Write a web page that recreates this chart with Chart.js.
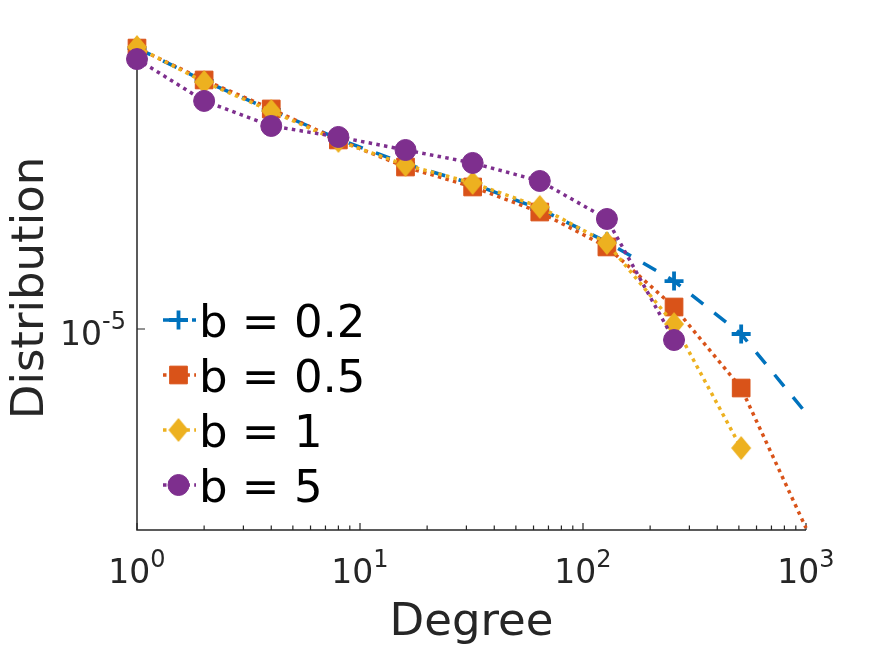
<!DOCTYPE html>
<html><head><meta charset="utf-8">
<script src="https://cdn.jsdelivr.net/npm/chart.js@4"></script>
<style>html,body{margin:0;padding:0;background:#fff}#wrap{width:891px;height:645px;position:relative}</style>
</head><body><div id="wrap"><canvas id="c"></canvas></div>
<script>
// ---- data ----
const degrees = [1, 2, 4, 8, 16, 32, 64, 128, 256, 512, 1000];
const seriesLabels = ['b = 0.2', 'b = 0.5', 'b = 1', 'b = 5'];
const b02 = [6.03e-5, 4.885e-5, 4.058e-5, 3.372e-5, 2.873e-5, 2.528e-5, 2.154e-5, 1.745e-5, 1.359e-5, 9.685e-6, 5.843e-6];
const b05 = [6.03e-5, 4.917e-5, 4.085e-5, 3.350e-5, 2.818e-5, 2.480e-5, 2.113e-5, 1.690e-5, 1.151e-5, 6.856e-6, 2.801e-6];
const b1  = [6.07e-5, 4.854e-5, 4.032e-5, 3.328e-5, 2.855e-5, 2.544e-5, 2.183e-5, 1.733e-5, 1.032e-5, 4.671e-6, null];
const b5  = [5.62e-5, 4.30e-5, 3.664e-5, 3.415e-5, 3.142e-5, 2.892e-5, 2.577e-5, 2.021e-5, 9.32e-6, null, null];
const xTicks = [1, 10, 100, 1000];
const yTicks = [1e-5];
const xRange = [1, 1000];
const yRange = [2.765e-6, 6.11e-5];
const xTitle = 'Degree';
const yTitle = 'Distribution';

// ---- styles ----
const styles = [
  {color: '#0072BD', dash: [15, 14], point: 'cross', r: 9.5, pbw: 3.8},
  {color: '#D95319', dash: [3.5, 4.3], point: 'rect', r: 12.5, pbw: 1},
  {color: '#EDB120', dash: [3.5, 4.3], point: 'diamond', r: 11, pbw: 1},
  {color: '#7E2F8E', dash: [3.5, 4.3], point: 'circle', r: 10.5, pbw: 1}
];
const seriesValues = [b02, b05, b1, b5];
const AX = '#262626';
const FONT = '"DejaVu Sans", sans-serif';

// MATLAB-like diamond (slightly taller than wide) as a point image
function makeDiamond(color, w, h) {
  const c = document.createElement('canvas');
  c.width = Math.ceil(w) + 2; c.height = Math.ceil(h) + 2;
  const g = c.getContext('2d');
  const cx = c.width / 2, cy = c.height / 2;
  g.fillStyle = color;
  g.beginPath();
  g.moveTo(cx, cy - h / 2); g.lineTo(cx + w / 2, cy);
  g.lineTo(cx, cy + h / 2); g.lineTo(cx - w / 2, cy);
  g.closePath(); g.fill();
  return c;
}
const diamondImg = makeDiamond('#EDB120', 20, 24);
const resolveStyle = (s) => s.point === 'diamond' ? diamondImg : s.point;

const isMarker = (d) => Math.abs(Math.log2(d) - Math.round(Math.log2(d))) < 1e-9;

const datasets = seriesValues.map((vals, i) => {
  const s = styles[i];
  return {
    label: seriesLabels[i],
    data: degrees.map((d, k) => ({x: d, y: vals[k]})),
    borderColor: s.color,
    backgroundColor: s.color,
    borderWidth: 3.5,
    borderDash: s.dash,
    borderCapStyle: 'butt',
    tension: 0,
    spanGaps: false,
    clip: false,
    order: 4 - i,
    pointStyle: resolveStyle(s),
    pointRadius: (ctx) => isMarker(degrees[ctx.dataIndex]) ? s.r : 0,
    pointBackgroundColor: s.color,
    pointBorderColor: s.color,
    pointBorderWidth: s.pbw
  };
});

function drawPow(ctx, base, exp, x, baseY, align) {
  ctx.font = '33px ' + FONT;
  const wb = ctx.measureText(base).width;
  ctx.font = '24px ' + FONT;
  const we = ctx.measureText(exp).width;
  const total = wb + we;
  let sx = align === 'center' ? x - total / 2 : x - total;
  ctx.textBaseline = 'alphabetic';
  ctx.textAlign = 'left';
  ctx.font = '33px ' + FONT;
  ctx.fillText(base, sx, baseY);
  ctx.font = '24px ' + FONT;
  ctx.fillText(exp, sx + wb, baseY - 16);
}

const axesPlugin = {
  id: 'matlabAxes',
  beforeDatasetsDraw(chart) {
    const {ctx, chartArea: a, scales: {x, y}} = chart;
    ctx.save();
    ctx.strokeStyle = AX;
    ctx.lineWidth = 1.5;
    ctx.setLineDash([]);
    ctx.beginPath();
    ctx.moveTo(a.left, a.top);
    ctx.lineTo(a.left, a.bottom);
    ctx.lineTo(a.right, a.bottom);
    ctx.stroke();
    ctx.lineWidth = 1.2;
    ctx.beginPath();
    for (let dec = 1; dec < xRange[1]; dec *= 10) {
      for (let m = 1; m <= 9; m++) {
        const v = dec * m;
        if (v > xRange[1]) break;
        const px = x.getPixelForValue(v);
        const len = m === 1 ? 7 : 4.5;
        ctx.moveTo(px, a.bottom);
        ctx.lineTo(px, a.bottom - len);
      }
    }
    const pr = x.getPixelForValue(xRange[1]);
    ctx.moveTo(pr, a.bottom); ctx.lineTo(pr, a.bottom - 7);
    yTicks.forEach(v => {
      const py = y.getPixelForValue(v);
      ctx.moveTo(a.left, py); ctx.lineTo(a.left + 8, py);
    });
    ctx.stroke();
    ctx.restore();
  },
  afterDraw(chart) {
    const {ctx, chartArea: a, scales: {x, y}} = chart;
    ctx.save();
    ctx.fillStyle = AX;
    xTicks.forEach(v => {
      drawPow(ctx, '10', String(Math.round(Math.log10(v))), x.getPixelForValue(v), 583, 'center');
    });
    yTicks.forEach(v => {
      const py = y.getPixelForValue(v);
      drawPow(ctx, '10', String(Math.round(Math.log10(v))), a.left - 11, py + 16, 'right');
    });
    ctx.font = '45px ' + FONT;
    ctx.textAlign = 'center';
    ctx.textBaseline = 'alphabetic';
    ctx.fillText(xTitle, (a.left + a.right) / 2, 635);
    ctx.save();
    ctx.translate(43, (a.top + a.bottom) / 2);
    ctx.rotate(-Math.PI / 2);
    ctx.fillText(yTitle, 0, 0);
    ctx.restore();
    // legend
    chart.data.datasets.forEach((ds, i) => {
      const s = styles[i];
      const ry = 320 + 55 * i;
      ctx.save();
      ctx.strokeStyle = s.color;
      ctx.lineWidth = 3.5;
      ctx.lineCap = 'butt';
      ctx.setLineDash(s.dash);
      ctx.beginPath();
      ctx.moveTo(163, ry);
      ctx.lineTo(196, ry);
      ctx.stroke();
      ctx.setLineDash([]);
      ctx.fillStyle = s.color;
      ctx.strokeStyle = s.color;
      ctx.lineWidth = s.pbw;
      if (Chart.helpers && Chart.helpers.drawPoint) {
        Chart.helpers.drawPoint(ctx, {pointStyle: resolveStyle(s), radius: s.r, rotation: 0, borderWidth: s.pbw}, 178.5, ry);
      }
      ctx.restore();
      ctx.fillStyle = '#000';
      ctx.font = '45px ' + FONT;
      ctx.textAlign = 'left';
      ctx.textBaseline = 'alphabetic';
      ctx.fillText(ds.label, 199, ry + 16.7);
    });
    ctx.restore();
  }
};

new Chart(document.getElementById('c'), {
  type: 'line',
  data: {datasets},
  options: {
    responsive: true,
    maintainAspectRatio: false,
    animation: false,
    events: [],
    layout: {padding: {left: 137, right: 85, top: 46, bottom: 115}},
    plugins: {legend: {display: false}, tooltip: {enabled: false}},
    scales: {
      x: {type: 'logarithmic', min: xRange[0], max: xRange[1], display: false},
      y: {type: 'logarithmic', min: yRange[0], max: yRange[1], display: false}
    }
  },
  plugins: [axesPlugin]
});
</script>
</body></html>
